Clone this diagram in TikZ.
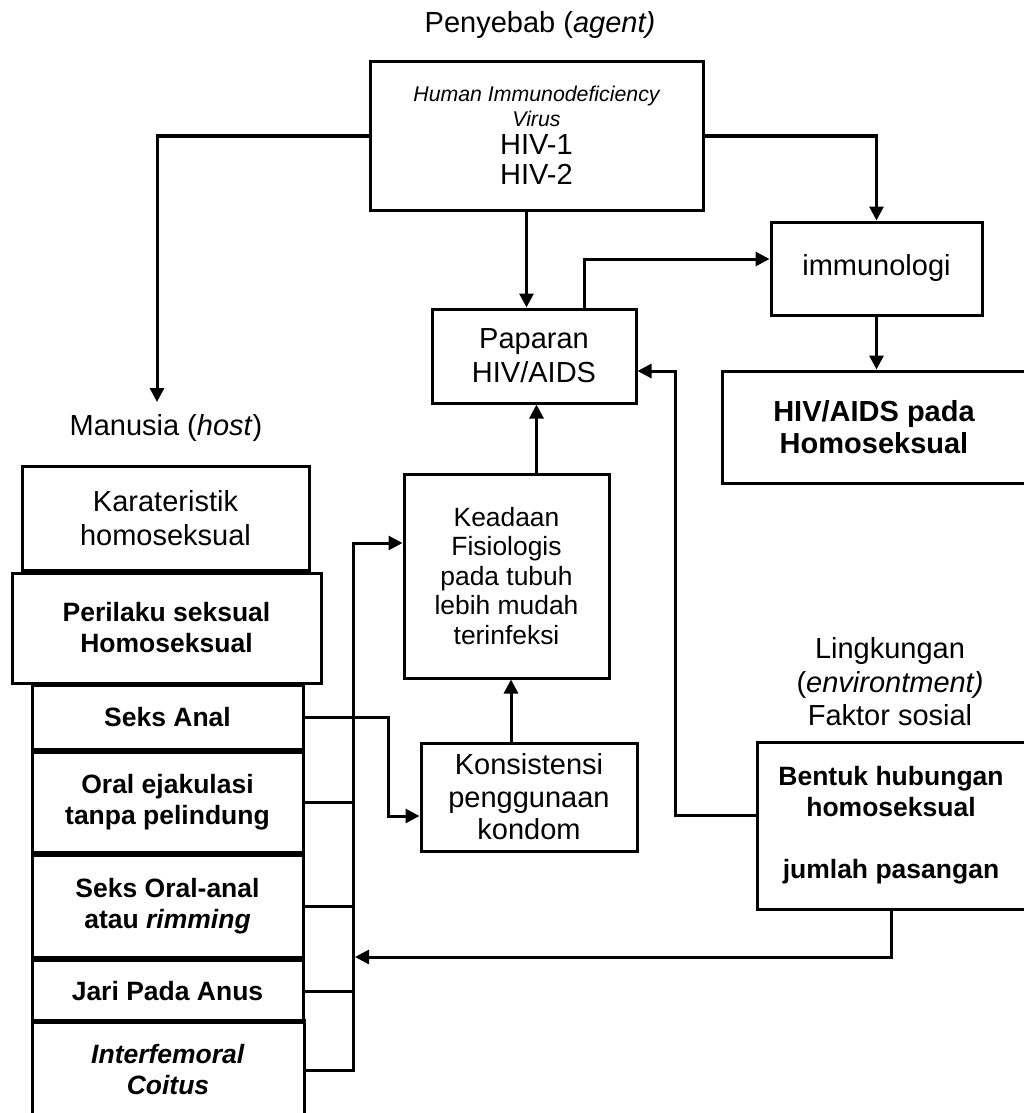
\documentclass[tikz,border=0pt]{standalone}
\usepackage{fontspec}
\setmainfont{Liberation Sans}
\usetikzlibrary{arrows.meta}

\begin{document}
\begin{tikzpicture}[x=0.5pt, y=-0.5pt,
    kotak/.style={draw, line width=1.5pt, align=center, inner sep=0pt, font=\fontsize{14.5}{17}\selectfont},
    kotaktebal/.style={kotak, font=\fontsize{13.25}{15.5}\selectfont\bfseries},
    teks/.style={align=center, inner sep=0pt, font=\fontsize{14.5}{16.75}\selectfont},
    garis/.style={line width=1.5pt},
    panah/.style={-{Triangle[length=7pt,width=7pt]}, line width=1.5pt}]
    \useasboundingbox (0,0) rectangle (1023,1113);

    % agent
    \node[teks] (penyebab) at (540,25) {Penyebab (\textit{agent)}};
    \node[kotak, minimum width=166.5pt, minimum height=74pt] (virus) at (536.5,136) {};
    \node[teks, font=\fontsize{10.65}{12.5}\selectfont\itshape] (virusnama) at (536.5,106) {Human Immunodeficiency\\Virus};
    \node[teks, font=\fontsize{14.5}{15}\selectfont] (virustipe) at (536.5,160) {HIV-1\\HIV-2};

    \node[kotak, minimum width=102pt, minimum height=47pt] (paparan) at (534,356) {Paparan\\HIV/AIDS};
    \node[kotak, minimum width=105.5pt, minimum height=46.5pt] (immuno) at (876.5,268.5) {immunologi};
    \node[kotak, font=\fontsize{14.5}{16}\selectfont\bfseries, minimum width=152pt, minimum height=56pt] (hivaids) at (874,427) {HIV/AIDS pada\\Homoseksual};

    % host
    \coordinate (hostin) at (157,402);
    \node[teks] (manusia) at (166,428) {Manusia (\textit{host})};
    \node[kotak, minimum width=143.5pt, minimum height=52pt] (karakter) at (165.5,518) {Karateristik\\homoseksual};
    \node[kotaktebal, minimum width=154.5pt, minimum height=55pt] (perilaku) at (166.5,628) {Perilaku seksual\\Homoseksual};
    \node[kotaktebal, minimum width=135.5pt, minimum height=32pt] (anal) at (167.5,717) {Seks Anal};
    \node[kotaktebal, minimum width=135.5pt, minimum height=50pt] (oral) at (167.5,802) {Oral ejakulasi\\tanpa pelindung};
    \node[kotaktebal, minimum width=135.5pt, minimum height=51pt] (rimming) at (167.5,906) {Seks Oral-anal\\atau \textit{rimming}};
    \node[kotaktebal, minimum width=135.5pt, minimum height=31pt] (jari) at (167.5,991) {Jari Pada Anus};
    \node[kotaktebal, minimum width=136pt, minimum height=50pt] (inter) at (168,1070) {\textit{Interfemoral}\\\textit{Coitus}};

    \node[kotak, font=\fontsize{13.2}{14.75}\selectfont, minimum width=102.5pt, minimum height=102pt] (keadaan) at (506.5,576) {Keadaan\\Fisiologis\\pada tubuh\\lebih mudah\\terinfeksi};
    \node[kotak, font=\fontsize{14.5}{16.25}\selectfont, minimum width=108pt, minimum height=54pt] (kondom) at (529,797) {Konsistensi\\penggunaan\\kondom};

    % environment
    \node[teks] (lingkungan) at (890,682) {Lingkungan\\(\textit{environtment)}\\Faktor sosial};
    \node[kotaktebal, minimum width=134pt, minimum height=83.5pt] (bentuk) at (891,825.5) {Bentuk hubungan\\homoseksual\\[15.5pt]jumlah pasangan};

    \coordinate (bus) at (353,543);
    \coordinate (busin) at (355,957);

    \draw[panah] (virus.west) -| (hostin);
    \draw[panah] (virus.east) -| (immuno.north);
    \draw[panah] ([xshift=-5pt]virus.south) -- ([xshift=-5pt]virus.south |- paparan.north);
    \draw[panah] ([xshift=25pt]paparan.north) |- ([yshift=4.75pt]immuno.west);
    \draw[panah] (immuno.south) -- (immuno.south |- hivaids.north);
    \draw[panah] ([xshift=15pt]keadaan.north) -- ([xshift=15pt]keadaan.north |- paparan.south);
    \draw[panah] ([xshift=-9pt]kondom.north) -- ([xshift=-9pt]kondom.north |- keadaan.south);
    \draw[panah] ([yshift=5pt]bentuk.west) -- ++(-40pt,0) |- ([yshift=-7.5pt]paparan.east);
    \draw[panah] (bentuk.south) |- (busin);
    \draw[panah] (anal.east) -- ++(42pt,0) |- ([yshift=-9.5pt]kondom.west);
    \draw[panah] (inter.east) -| (bus) -- (bus -| keadaan.west);
    \foreach \b in {oral,rimming,jari}
        \draw[garis] (\b.east) -- (\b.east -| bus);
\end{tikzpicture}
\end{document}
